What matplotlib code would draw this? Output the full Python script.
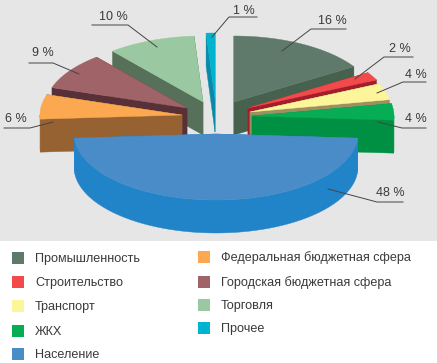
import numpy as np
import matplotlib
matplotlib.use("Agg")
import matplotlib.pyplot as plt
from matplotlib.patches import Polygon, Rectangle

plt.rcParams['font.family'] = ['Liberation Sans', 'DejaVu Sans']

# --- data ---
categories = ["Промышленность", "Строительство", "Транспорт", "ЖКХ", "Население",
              "Федеральная бюджетная сфера", "Городская бюджетная сфера", "Торговля", "Прочее"]
values = [16, 2, 4, 4, 48, 6, 9, 10, 1]

# --- style ---
top_colors = ["#5f7a6a", "#f24a4a", "#fdf59a", "#06ad54", "#4a8cc8",
              "#fba850", "#a06468", "#9ac8a0", "#00b4d0"]
side_colors = ["#47614f", "#a01f2a", "#9c9060", "#009044", "#2284c8",
               "#976232", "#583038", "#56705a", "#0a8aa8"]
apex_x = [234, 248, 250, 252, 216, 182, 187, 203, 215]
apex_y = [102, 108, 112, 116, 134, 115, 108, 102, 99]
draw_order = [8, 7, 6, 5, 0, 1, 2, 3, 4]
leaders = [
    [(282, 51), (311, 29), (346, 29)],
    [(355, 79), (384, 57), (413, 57)],
    [(377, 93), (403, 82), (426, 82)],
    [(378, 122), (402, 128), (426, 128)],
    [(328, 189), (377, 202), (403, 202)],
    [(53, 122), (30, 128), (4, 128)],
    [(79, 74), (53, 63), (29, 63)],
    [(157, 47), (128, 25), (92, 25)],
    [(212, 37), (229, 17), (257, 17)],
]
label_pos = [(332, 21.5), (400, 49.5), (416, 74.5), (416, 119.5), (390, 192.5),
             (16, 119.5), (43, 52.5), (113, 17.5), (244, 10.5)]
A, B, DEPTH = 142, 66, 33

fig = plt.figure(figsize=(4.37, 3.63), dpi=100, facecolor="white")
ax = fig.add_axes([0, 0, 1, 1])
ax.set_xlim(0, 437)
ax.set_ylim(363, 0)
ax.axis("off")
ax.add_patch(Rectangle((0, 0), 437, 240.5, color="#e6e6e6", lw=0, zorder=0))

edges = np.cumsum([0] + values) / sum(values) * 2 * np.pi


def rim(cx, cy, t):
    return cx + A * np.sin(t), cy - B * np.cos(t)


z = 1
for i in draw_order:
    cx, cy = apex_x[i], apex_y[i]
    t0, t1 = edges[i], edges[i + 1]
    ts = np.linspace(t0, t1, 80)
    xs, ys = rim(cx, cy, ts)
    # radial faces
    for t in (t0, t1):
        rx, ry = rim(cx, cy, t)
        ax.add_patch(Polygon([(cx, cy), (rx, ry), (rx, ry + DEPTH), (cx, cy + DEPTH)],
                             closed=True, fc=side_colors[i], ec=side_colors[i], lw=0.3, zorder=z))
    # outer wall (only the part facing the viewer)
    front = np.cos(ts) <= 0
    fx, fy = xs[front], ys[front]
    if len(fx) > 1:
        wall = list(zip(fx, fy)) + list(zip(fx[::-1], fy[::-1] + DEPTH))
        ax.add_patch(Polygon(wall, closed=True, fc=side_colors[i], ec=side_colors[i],
                             lw=0.3, zorder=z + 0.1))
    # top face
    ax.add_patch(Polygon([(cx, cy)] + list(zip(xs, ys)), closed=True,
                         fc=top_colors[i], ec=top_colors[i], lw=0.3, zorder=z + 0.2))
    z += 1

for pts, (tx, ty), v in zip(leaders, label_pos, values):
    p = np.array(pts)
    ax.plot(p[:, 0], p[:, 1], color="#444444", lw=0.7, zorder=30, solid_joinstyle="miter")
    ax.text(tx, ty, f"{v} %", ha="center", va="center", fontsize=9, color="#3a3a3a", zorder=31)

# legend
left_y = [258, 282, 306, 331, 354]
right_y = [257, 282, 305, 328]
rows = [(12, 35, y) for y in left_y] + [(198, 221, y) for y in right_y]
for (sx, tx, y), name, col in zip(rows, categories, top_colors):
    ax.add_patch(Rectangle((sx, y - 6), 12, 12, fc=col, ec="none", zorder=5))
    ax.text(tx, y + 0.8, name, ha="left", va="center", fontsize=9.05, color="#3a3a3a", zorder=6)

fig.savefig("out.png", dpi=100, facecolor="white")
